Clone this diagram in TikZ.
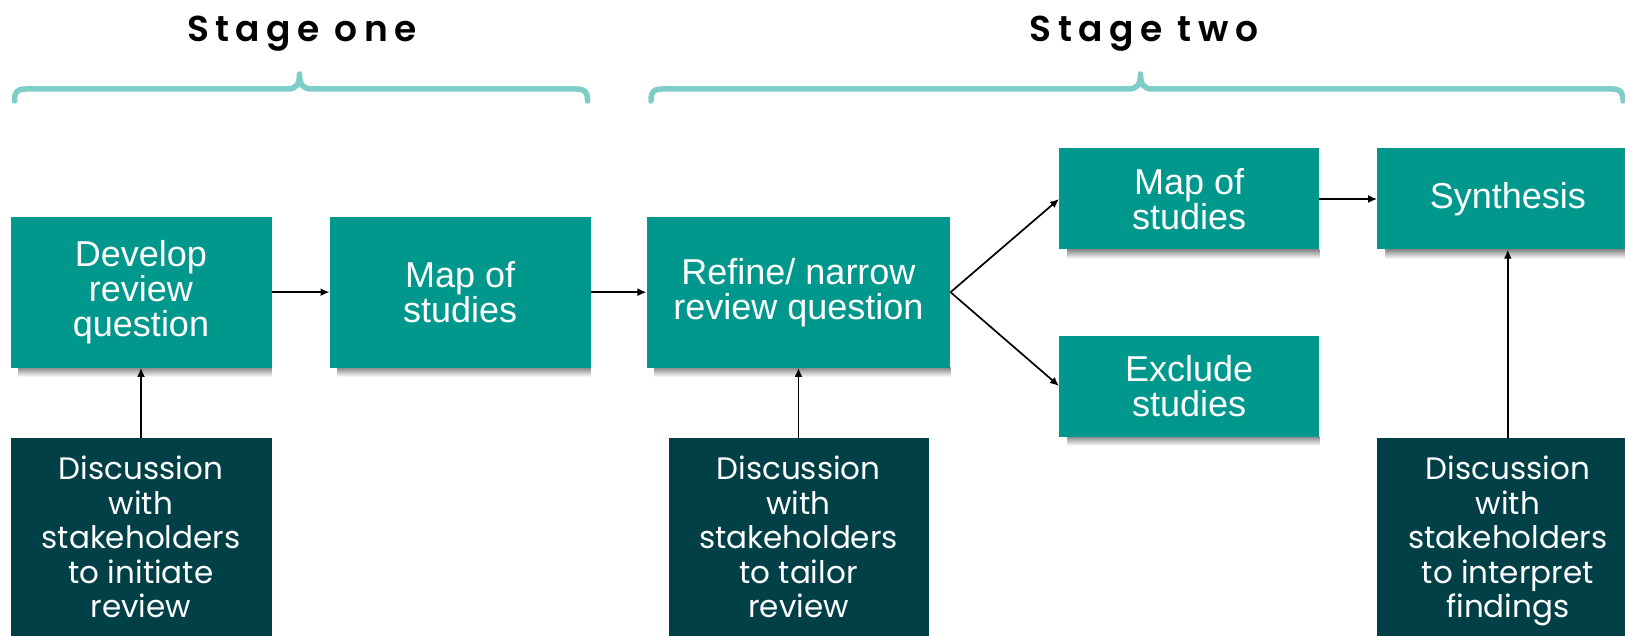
\documentclass[tikz,border=0pt]{standalone}
\usepackage{fontspec}
\setmainfont{Liberation Sans}
\newfontfamily\stagefont[LetterSpace=18]{Poppins SemiBold}
\newfontfamily\discfont{Poppins}
\usetikzlibrary{arrows.meta,backgrounds}
\definecolor{boxteal}{RGB}{0,152,140}
\definecolor{darkteal}{RGB}{0,64,70}
\definecolor{bracec}{RGB}{127,205,199}
\tikzset{
  tealbox/.style={rectangle, fill=boxteal, text=white, align=center, inner sep=0pt,
    font=\fontsize{36}{35}\selectfont, minimum width=261pt, minimum height=151pt},
  discbox/.style={rectangle, fill=darkteal, text=white, align=center, inner sep=0pt,
    font=\discfont\fontsize{31}{34.5}\selectfont, minimum width=261pt, minimum height=197.6pt},
  arr/.style={-{Latex[length=9pt,width=8pt]}, line width=1.7pt, black},
  bracepath/.style={draw=bracec, line width=5.5pt, line cap=round, line join=round},
  stagetext/.style={font=\stagefont\fontsize{36}{36}\selectfont, anchor=base},
  shadowbar/.style={top color=black!45, bottom color=white, draw=none}
}
\begin{document}
\begin{tikzpicture}[x=1pt,y=-1pt]
\useasboundingbox (0,0) rectangle (1625,636);
\clip (0,0) rectangle (1625,636);

% stage headings
\node[stagetext] (s1) at (302,42) {Stage one};
\node[stagetext] (s2) at (1144,42) {Stage two};

% braces
\draw[bracepath] (14.5,101) -- (14.5,100) .. controls (14.5,92) and (17,89) .. (26,89)
  -- (287,89) .. controls (296,89) and (299.5,85) .. (299.5,74)
  .. controls (299.5,85) and (303,89) .. (312,89)
  -- (576,89) .. controls (585,89) and (587.5,92) .. (587.5,100) -- (587.5,101);
\draw[bracepath] (651,101) -- (651,100) .. controls (651,92) and (653.5,89) .. (662,89)
  -- (1128,89) .. controls (1137,89) and (1140.5,85) .. (1140.5,74)
  .. controls (1140.5,85) and (1144,89) .. (1153,89)
  -- (1612,89) .. controls (1620,89) and (1623,92) .. (1623,100) -- (1623,101);

% boxes
\node[tealbox] (dev) at (141,292.2) {Develop\\review\\question};
\node[tealbox] (map1) at (460.2,292.2) {Map of\\studies};
\node[tealbox, minimum width=303.7pt] (ref) at (798.5,292.2) {Refine/ narrow\\review question};
\node[tealbox, minimum height=101pt, minimum width=260pt] (map2) at (1189.2,199) {Map of\\studies};
\node[tealbox, minimum height=101pt, minimum width=260pt] (exc) at (1189.2,386) {Exclude\\studies};
\node[tealbox, minimum height=101pt] (syn) at (1507.8,199) {Synthesis};

\node[discbox] (d1) at (141,537.2) {Discussion\\with\\stakeholders\\to initiate\\review};
\node[discbox, minimum width=260pt] (d2) at (798.5,537.2) {Discussion\\with\\stakeholders\\to tailor\\review};
\node[discbox] (d3) at (1507.8,537.2) {Discussion\\with\\stakeholders\\to interpret\\\smash{findings}};

% shadows
\begin{scope}[on background layer]
  \foreach \b in {dev,map1,ref,map2,exc,syn}{
    \shade[shadowbar] ([xshift=8pt]\b.south west) rectangle ([yshift=-9pt]\b.south east);
  }
\end{scope}

% connectors
\draw[arr] (dev.east) -- (map1.west);
\draw[arr] (map1.east) -- (ref.west);
\draw[arr] (ref.east) -- (map2.west);
\draw[arr] (ref.east) -- (exc.west);
\draw[arr] (map2.east) -- (syn.west);
\draw[arr] (d1.north) -- (dev.south);
\draw[arr] (d2.north) -- (ref.south);
\draw[arr] (d3.north) -- (syn.south);
\end{tikzpicture}
\end{document}
